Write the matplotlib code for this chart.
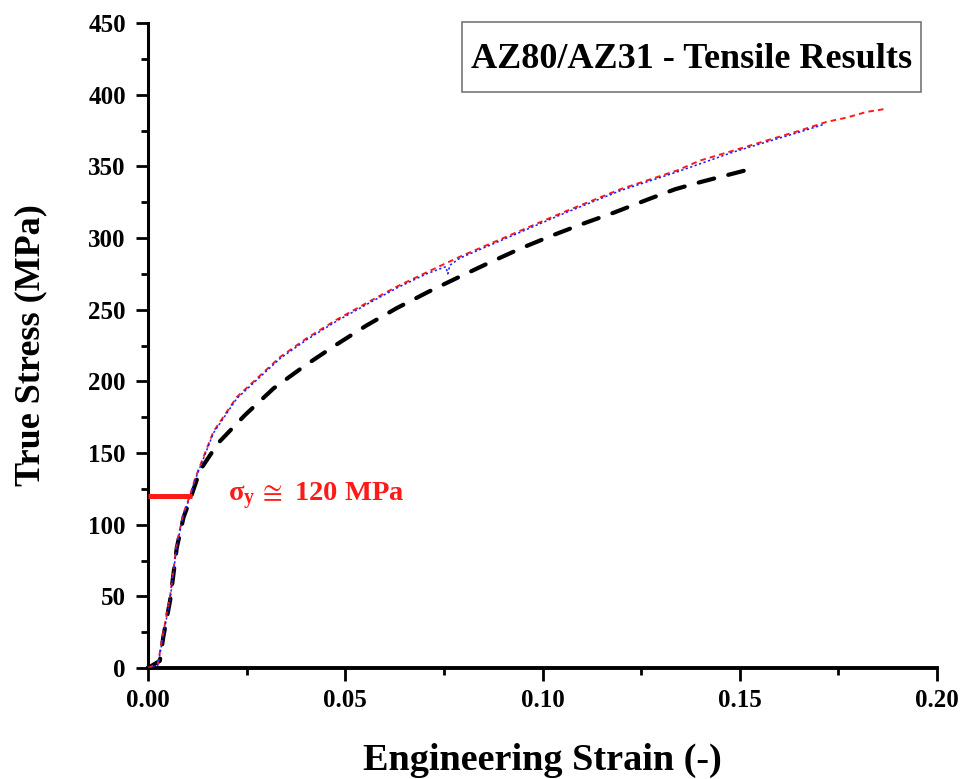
import matplotlib
matplotlib.use("Agg")
import matplotlib.pyplot as plt
from matplotlib.ticker import MultipleLocator, FormatStrFormatter
from matplotlib.patches import Rectangle

plt.rcParams['lines.scale_dashes'] = False
plt.rcParams['mathtext.fontset'] = 'custom'
plt.rcParams['mathtext.rm'] = 'Liberation Serif:bold'
plt.rcParams['mathtext.it'] = 'Liberation Serif:bold'
plt.rcParams['mathtext.bf'] = 'Liberation Serif:bold'
plt.rcParams['mathtext.fallback'] = 'stix'

# ---- data ----
red_strain = [0.0, 0.0025, 0.0039, 0.0056, 0.0073, 0.0090, 0.0106, 0.0119, 0.0166,
              0.0225, 0.0276, 0.0335, 0.0402, 0.0478, 0.0563, 0.0630, 0.0706,
              0.0791, 0.0901, 0.1053, 0.1197, 0.1340, 0.1399, 0.1484, 0.1568,
              0.1653, 0.1720, 0.1771, 0.1822, 0.1868]
red_stress = [0, 3, 25, 50, 87, 108, 120, 132, 165,
              189, 202, 217, 230, 243, 256, 266, 276,
              287, 300, 318, 334, 347, 354, 361, 368,
              375, 381, 384, 388, 390]

blue_strain = [0.0, 0.0025, 0.0039, 0.0056, 0.0073, 0.0090, 0.0106, 0.0119, 0.0166,
               0.0225, 0.0276, 0.0335, 0.0402, 0.0478, 0.0563, 0.0630, 0.0706,
               0.0755, 0.0760, 0.0765, 0.0791, 0.0901, 0.1053, 0.1197, 0.1340,
               0.1484, 0.1568, 0.1653, 0.1716]
blue_stress = [0, 2, 23, 48, 85, 107, 119, 131, 164,
               188, 201, 216, 229, 242, 255, 265, 275,
               280, 275, 281, 286, 299, 317, 333, 346,
               360, 367, 374, 379.5]

black_strain = [0.0, 0.0030, 0.0039, 0.0056, 0.0073, 0.0090, 0.0106, 0.0132, 0.0178,
                0.0246, 0.0318, 0.0398, 0.0474, 0.0554, 0.0630, 0.0711, 0.0787,
                0.0867, 0.0947, 0.1027, 0.1103, 0.1184, 0.1268, 0.1336, 0.1400,
                0.1470, 0.1526]
black_stress = [0, 5, 22, 47, 84, 105, 117, 138, 157,
                176.5, 195, 211, 225, 239, 251, 262.5, 272.6,
                283, 293, 302, 310, 318, 327, 334, 339,
                344, 348]

yield_strain = [0.0, 0.0111]
yield_stress = [120, 120]

x_ticks = [0.00, 0.05, 0.10, 0.15, 0.20]
y_ticks = [0, 50, 100, 150, 200, 250, 300, 350, 400, 450]

W, H = 962, 779
# ---- figure ----
fig = plt.figure(figsize=(W / 100, H / 100), dpi=100)
ax = fig.add_axes([148 / W, 1 - 668 / H, 789 / W, 645 / H])

ax.plot(black_strain, black_stress, color='black', lw=3.0, dashes=(11.5, 10.5),
        dash_capstyle='round', zorder=3)
ax.plot(red_strain, red_stress, color='#ff1a1a', lw=1.4, dashes=(4.0, 3.0), zorder=4)
ax.plot(blue_strain, blue_stress, color='#1a1aff', lw=1.1, dashes=(1.6, 1.8), zorder=5)
ax.plot(yield_strain, yield_stress, color='#ff1a1a', lw=3.6, solid_capstyle='butt', zorder=6)

ax.text(0.0203, 120, r"$\sigma_{y}\,\cong$" + " 120 MPa", color='#ff1a1a', fontsize=20.5,
        fontweight='bold', family='Liberation Serif', va='center', ha='left')

ax.set_xlim(0, 0.20)
ax.set_ylim(0, 450)
ax.set_xticks(x_ticks)
ax.set_yticks(y_ticks)
ax.xaxis.set_major_formatter(FormatStrFormatter('%.2f'))
ax.xaxis.set_minor_locator(MultipleLocator(0.025))
ax.yaxis.set_minor_locator(MultipleLocator(25))

for s in ['top', 'right']:
    ax.spines[s].set_visible(False)
ax.spines['left'].set_linewidth(2.2)
ax.spines['bottom'].set_linewidth(2.8)

ax.tick_params(axis='both', which='major', direction='out', width=2, length=9)
ax.tick_params(axis='both', which='minor', direction='out', width=2, length=5)
ax.tick_params(axis='x', which='major', length=9, pad=6)
ax.tick_params(axis='y', which='major', pad=7)
for lab in ax.get_xticklabels() + ax.get_yticklabels():
    lab.set_fontfamily('Liberation Serif')
    lab.set_fontweight('bold')
    lab.set_fontsize(18)

ax.set_xlabel('Engineering Strain (-)', fontfamily='Liberation Serif', fontweight='bold',
              fontsize=27.5)
ax.set_ylabel('True Stress (MPa)', fontfamily='Liberation Serif', fontweight='bold',
              fontsize=26)
ax.xaxis.label.set_va('center')
ax.yaxis.label.set_va('center')
ax.xaxis.set_label_coords(0.5, (668 - 760) / 645)
ax.yaxis.set_label_coords((31 - 148) / 789, 0.5)

# title box
fig.add_artist(Rectangle((462 / W, 1 - 92 / H), (921 - 462) / W, (92 - 22) / H,
                         transform=fig.transFigure, fc='white', ec='#777777', lw=1.2))
fig.text((462 + 921) / 2 / W, 1 - 59 / H, 'AZ80/AZ31 - Tensile Results',
         fontfamily='Liberation Serif', fontweight='bold', fontsize=26,
         ha='center', va='center')

fig.savefig('out.png', dpi=100)
